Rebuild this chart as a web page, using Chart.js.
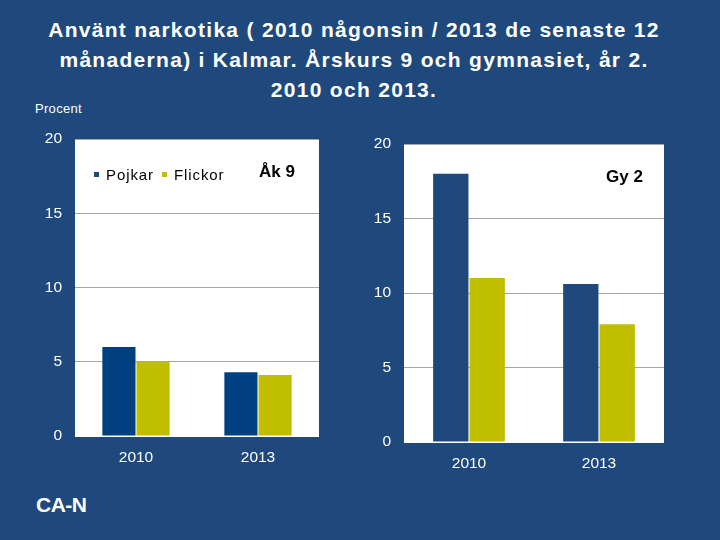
<!DOCTYPE html>
<html>
<head>
<meta charset="utf-8">
<script src="https://cdn.jsdelivr.net/npm/chart.js@4"></script>
<style>
  html, body { margin:0; padding:0; }
  body { width:720px; height:540px; background:#1f497d; position:relative; overflow:hidden; font-family:"Liberation Sans", Arial, sans-serif; }
  #title { position:absolute; left:1px; top:15px; width:706px; text-align:center; color:#fff; font-weight:bold; font-size:21px; line-height:30px; letter-spacing:1.3px; }
  #procent { position:absolute; left:35px; top:101px; color:#fff; font-size:13px; letter-spacing:0.3px; }
  .cw { position:absolute; }
  .sq { position:absolute; width:5px; height:5px; }
  .it { position:absolute; font-size:15px; color:#000; letter-spacing:0.9px; white-space:nowrap; }
  .lab { position:absolute; font-weight:bold; font-size:17px; color:#000; }
  #logo { position:absolute; left:36px; top:493px; color:#fff; font-weight:bold; font-size:21px; letter-spacing:-0.5px; }
</style>
</head>
<body>
<div id="title">Använt narkotika ( 2010 någonsin / 2013 de senaste 12<br>månaderna) i Kalmar. Årskurs 9 och gymnasiet, år 2.<br>2010 och 2013.</div>
<div id="procent">Procent</div>
<div class="cw" style="left:30px;top:130px;"><canvas id="c1" width="300" height="346"></canvas></div>
<div class="cw" style="left:359px;top:135px;"><canvas id="c2" width="316" height="347"></canvas></div>
<div id="legend"></div>
<div class="lab" style="left:259px;top:162px;">Åk 9</div>
<div class="lab" style="left:606px;top:167px;">Gy 2</div>
<div id="logo">CA-N</div>
<script>
const years = ['2010', '2013'];
const seriesNames = ['Pojkar', 'Flickor'];
const ak9Pojkar = [6.0, 4.3];
const ak9Flickor = [5.0, 4.1];
const gy2Pojkar = [18.0, 10.6];
const gy2Flickor = [11.0, 7.9];
const yMin = 0, yMax = 20, yStep = 5;

const legendColors = ['#1f497d', '#bfbf00'];
const legendX = [94, 162];
const lg = document.getElementById('legend');
seriesNames.forEach((n, i) => {
  lg.innerHTML += '<div class="sq" style="left:' + legendX[i] + 'px;top:172px;background:' + legendColors[i] + '"></div>' +
                  '<div class="it" style="left:' + (legendX[i] + 12) + 'px;top:166px;">' + n + '</div>';
});

const plotBg = {
  id: 'plotBg',
  beforeDraw(chart) {
    const a = chart.chartArea, ctx = chart.ctx;
    ctx.save();
    ctx.fillStyle = '#ffffff';
    ctx.fillRect(a.left, a.top, a.right - a.left, a.bottom - a.top);
    ctx.restore();
  }
};

function makeChart(id, pojkar, flickor, pojkarColor, pad) {
  return new Chart(document.getElementById(id), {
    type: 'bar',
    data: {
      labels: years,
      datasets: [
        { label: seriesNames[0], data: pojkar, backgroundColor: pojkarColor, borderWidth: 0, categoryPercentage: 0.56, barPercentage: 0.97 },
        { label: seriesNames[1], data: flickor, backgroundColor: '#bfbf00', borderWidth: 0, categoryPercentage: 0.56, barPercentage: 0.97 }
      ]
    },
    options: {
      responsive: false,
      animation: false,
      devicePixelRatio: 1,
      layout: { padding: pad },
      plugins: { legend: { display: false }, tooltip: { enabled: false } },
      scales: {
        x: {
          grid: { display: false, drawTicks: false },
          border: { display: false },
          ticks: { color: '#ffffff', font: { family: 'Liberation Sans', size: 15.5 }, padding: 12 },
          afterFit(s) { s.height = 40; s.paddingLeft = 0; s.paddingRight = 0; }
        },
        y: {
          min: yMin, max: yMax,
          ticks: { stepSize: yStep, color: '#ffffff', font: { family: 'Liberation Sans', size: 15.5 }, padding: 13 },
          grid: { drawTicks: false, color: (c) => c.tick && c.tick.value === 0 ? '#ffffff' : '#a6a6a6', lineWidth: 1 },
          border: { display: false },
          afterFit(s) { s.width = 45; s.paddingTop = 0; s.paddingBottom = 0; }
        }
      }
    },
    plugins: [plotBg]
  });
}

makeChart('c1', ak9Pojkar, ak9Flickor, '#004080', { top: 9, right: 11, bottom: 0, left: 0 });
makeChart('c2', gy2Pojkar, gy2Flickor, '#1f497d', { top: 9, right: 11, bottom: 0, left: 0 });
</script>
</body>
</html>
